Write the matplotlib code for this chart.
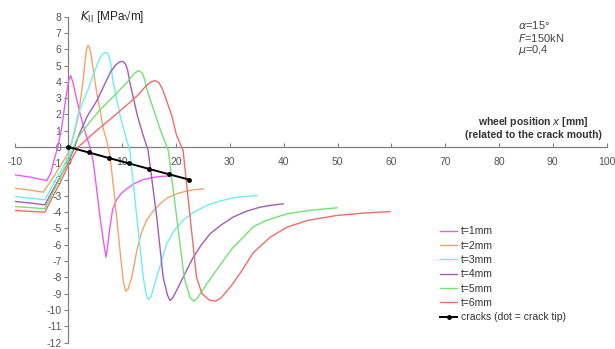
import matplotlib
matplotlib.use("Agg")
import matplotlib.pyplot as plt

# K_II vs wheel position for crack depth t = 1..6 mm
x1 = [-10, -7, -4.05, -3.3, -2.6, -2.0, -1.3, -0.8, -0.33, 0.05, 0.4, 0.8, 1.5, 2.1, 2.75, 3.4, 4.0, 4.6, 5.2, 5.86, 6.5, 6.97, 7.3, 7.7, 8.2, 8.9, 9.8, 10.8, 12.2, 13.9, 15.5, 17.0, 18.9]
y1 = [-1.71, -1.85, -2.06, -1.6, -0.7, 0.0, 1.12, 2.3, 3.36, 4.1, 4.39, 4.0, 2.96, 2.1, 1.32, 0.6, 0.0, -0.9, -2.5, -4.3, -5.8, -6.76, -6.0, -4.9, -3.85, -3.25, -2.85, -2.57, -2.25, -2.0, -1.88, -1.81, -1.77]

x2 = [-10, -7, -4.7, -3.0, -1.5, 0.0, 0.6, 1.2, 1.83, 2.3, 2.75, 3.1, 3.35, 3.6, 3.85, 4.1, 4.4, 4.8, 5.24, 5.9, 6.47, 7.1, 7.7, 8.64, 9.57, 10.2, 10.63, 11.1, 11.75, 12.7, 13.5, 14.5, 15.7, 17.0, 18.5, 20.1, 21.6, 23.2, 25.1]
y2 = [-2.53, -2.65, -2.77, -1.95, -1.15, -0.35, 0.3, 1.0, 1.93, 3.05, 4.18, 5.3, 6.0, 6.23, 6.15, 5.85, 5.2, 4.3, 3.36, 2.2, 1.12, 0.4, -0.5, -3.28, -6.35, -8.3, -8.85, -8.7, -8.0, -6.35, -5.3, -4.5, -3.95, -3.49, -3.1, -2.87, -2.73, -2.63, -2.57]

x3 = [-10, -7, -4.4, -3.0, -1.5, 0.0, 0.6, 1.8, 2.7, 3.6, 4.5, 5.5, 6.0, 6.5, 7.0, 7.4, 7.8, 8.3, 9.6, 10.5, 11.4, 12.7, 13.9, 14.4, 14.83, 15.3, 16.4, 17.3, 18.25, 19.7, 21.3, 23.3, 25.7, 28.0, 30.6, 33.0, 35.0]
y3 = [-3.04, -3.14, -3.24, -2.4, -1.5, -0.6, 0.3, 2.0, 2.8, 3.5, 4.35, 5.2, 5.55, 5.75, 5.82, 5.7, 5.2, 3.97, 1.93, 0.8, -0.21, -4.3, -8.0, -9.0, -9.36, -9.2, -8.0, -7.0, -5.94, -5.1, -4.5, -4.0, -3.59, -3.33, -3.12, -3.03, -2.98]

x4 = [-10, -7, -4.4, -3.0, -1.5, 0.0, 0.9, 2.0, 3.5, 5.2, 6.5, 7.8, 8.8, 9.5, 10.07, 10.6, 11.0, 11.4, 12.8, 13.8, 14.8, 16.4, 17.6, 18.4, 18.87, 19.4, 20.7, 21.9, 23.2, 24.7, 26.3, 28.3, 30.6, 33.0, 35.6, 37.8, 39.9]
y4 = [-3.34, -3.44, -3.55, -2.7, -1.8, -0.9, -0.2, 0.8, 1.9, 2.8, 3.7, 4.6, 5.05, 5.22, 5.26, 5.1, 4.7, 3.97, 1.93, 0.8, -0.21, -4.3, -8.0, -9.1, -9.42, -9.25, -8.4, -7.6, -6.76, -6.0, -5.33, -4.8, -4.3, -3.95, -3.69, -3.57, -3.49]

x5 = [-10, -7, -4.4, -3.0, -1.5, 0.0, 1.5, 3.5, 5.9, 8.5, 10.9, 12.2, 12.97, 13.7, 14.2, 14.6, 15.15, 17.0, 18.55, 20.1, 21.5, 22.6, 23.3, 23.9, 25.7, 27.2, 28.8, 30.5, 32.5, 34.3, 36.8, 40.6, 45.0, 49.9]
y5 = [-3.65, -3.72, -3.79, -2.85, -1.85, -0.8, 0.45, 1.35, 2.3, 3.15, 3.97, 4.5, 4.69, 4.55, 4.1, 3.5, 2.96, 1.12, -0.21, -4.3, -8.0, -9.25, -9.46, -9.3, -8.4, -7.7, -6.96, -6.2, -5.53, -4.9, -4.5, -4.1, -3.88, -3.73]

x6 = [-10, -7, -4.4, -3.0, -1.5, 0.0, 1.8, 5.0, 9.0, 12.8, 14.4, 15.3, 16.08, 16.8, 17.4, 17.9, 19.2, 20.1, 21.3, 22.6, 23.8, 24.8, 26.2, 27.36, 28.4, 30.3, 32.2, 34.3, 37.5, 40.6, 44.5, 49.9, 55.0, 59.8]
y6 = [-3.9, -3.95, -4.0, -3.1, -2.15, -1.1, 0.0, 0.95, 2.05, 3.15, 3.75, 4.0, 4.08, 3.95, 3.6, 3.16, 1.93, 0.7, -0.21, -4.3, -8.0, -9.0, -9.4, -9.46, -9.25, -8.5, -7.6, -6.5, -5.53, -4.92, -4.5, -4.2, -4.05, -3.96]

# crack tips
xc = [0, 3.73, 7.46, 11.2, 14.93, 18.66, 22.4]
yc = [0, -0.33, -0.67, -1.0, -1.34, -1.67, -2.0]

labels = ["t=1mm", "t=2mm", "t=3mm", "t=4mm", "t=5mm", "t=6mm"]
colors = ["#ec5cec", "#f4a46a", "#70eeee", "#a25cb6", "#72e272", "#f06c6c"]

plt.rcParams['font.family'] = ['Liberation Sans', 'DejaVu Sans']
plt.rcParams['axes.unicode_minus'] = False

fig = plt.figure(figsize=(6.15, 3.49), dpi=100)
ax = fig.add_axes([0.0239, 0.0186, 0.9623, 0.9335])

series = [(x1, y1), (x2, y2), (x3, y3), (x4, y4), (x5, y5), (x6, y6)]
for (xs, ys), lab, col in zip(series, labels, colors):
    ax.plot(xs, ys, color=col, lw=1.0, label=lab, zorder=3)
ax.plot(xc, yc, color="black", lw=1.4, marker="o", ms=2.5,
        label="cracks (dot = crack tip)", zorder=4)

ax.set_xlim(-10, 100)
ax.set_ylim(-12, 8)
ax.spines['left'].set_position(('data', 0))
ax.spines['bottom'].set_position(('data', 0))
ax.spines['top'].set_visible(False)
ax.spines['right'].set_visible(False)
for s in ['left', 'bottom']:
    ax.spines[s].set_color("#808080")
    ax.spines[s].set_linewidth(0.9)
ax.set_xticks(range(-10, 101, 10))
ax.set_yticks(range(-12, 9))
ax.tick_params(axis='x', direction='in', length=3, colors="#808080",
               labelcolor="#555555", labelsize=7.5, pad=7)
ax.tick_params(axis='y', direction='out', length=3, colors="#808080",
               labelcolor="#555555", labelsize=7.5, pad=2)

ax.text(0.11, 1.0, r"$K_{\mathrm{II}}$ [MPa√m]", transform=ax.transAxes,
        fontsize=8.5, color="#222222", va='center', ha='left')

fig.text(0.842, 0.928, r"$\alpha$=15°", fontsize=8, color="#444444", va='center')
fig.text(0.842, 0.891, r"$F$=150kN", fontsize=8, color="#444444", va='center')
fig.text(0.842, 0.856, r"$\mu$=0,4", fontsize=8, color="#444444", va='center')

fig.text(0.867, 0.650, "wheel position $x$ [mm]", fontsize=7.5, color="#333333",
         ha='center', va='center', fontweight='bold')
fig.text(0.867, 0.613, "(related to the crack mouth)", fontsize=7.5, color="#333333",
         ha='center', va='center', fontweight='bold')

leg = ax.legend(loc='upper left', bbox_to_anchor=(0.715, 0.352),
                bbox_transform=fig.transFigure, frameon=False, fontsize=7.5,
                handlelength=1.7, handletextpad=0.3, labelspacing=0.42,
                borderpad=0, borderaxespad=0)
for t in leg.get_texts():
    t.set_color("#333333")

fig.savefig("out.png", dpi=100)
